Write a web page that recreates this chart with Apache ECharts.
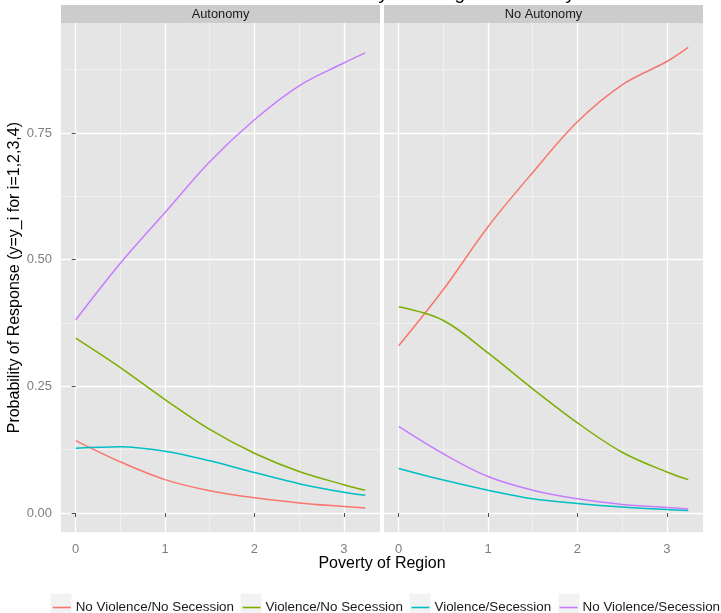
<!DOCTYPE html>
<html>
<head>
<meta charset="utf-8">
<script src="https://cdn.jsdelivr.net/npm/echarts@6/dist/echarts.min.js"></script>
<style>
html,body{margin:0;padding:0;background:#fff;}
#chart{width:721px;height:613px;}
</style>
</head>
<body>
<div id="chart"></div>
<script>
// ---- data ----
const titleText = 'Effects of Autonomy and Regional Poverty';
const panelNames = ['Autonomy', 'No Autonomy'];
const seriesNames = ['No Violence/No Secession', 'Violence/No Secession', 'Violence/Secession', 'No Violence/Secession'];
const seriesColors = ['#F8766D', '#7CAE00', '#00BFC4', '#C77CFF'];
const xValues = [0, 0.5, 1, 1.5, 2, 2.5, 3, 3.24];
const xTicks = [0, 1, 2, 3];
const xMinor = [0.5, 1.5, 2.5];
const yTicks = [0, 0.25, 0.5, 0.75];
const yMinor = [0.125, 0.375, 0.625, 0.875];

// Autonomy panel
const autoNoViolNoSec = [0.143, 0.101, 0.066, 0.044, 0.030, 0.020, 0.013, 0.010];
const autoViolNoSec   = [0.345, 0.287, 0.224, 0.165, 0.118, 0.082, 0.056, 0.045];
const autoViolSec     = [0.128, 0.131, 0.122, 0.103, 0.080, 0.058, 0.041, 0.035];
const autoNoViolSec   = [0.381, 0.493, 0.593, 0.693, 0.776, 0.843, 0.888, 0.908];
// No Autonomy panel
const noAutoNoViolNoSec = [0.330, 0.441, 0.565, 0.672, 0.772, 0.845, 0.891, 0.919];
const noAutoViolNoSec   = [0.407, 0.380, 0.316, 0.245, 0.178, 0.120, 0.081, 0.066];
const noAutoViolSec     = [0.088, 0.065, 0.045, 0.028, 0.019, 0.012, 0.007, 0.005];
const noAutoNoViolSec   = [0.171, 0.117, 0.072, 0.045, 0.028, 0.017, 0.011, 0.008];

const panelData = [
  [autoNoViolNoSec, autoViolNoSec, autoViolSec, autoNoViolSec],
  [noAutoNoViolNoSec, noAutoViolNoSec, noAutoViolSec, noAutoNoViolSec]
];

// ---- layout / style ----
const FONT = 'Liberation Sans, Arial, sans-serif';
const X_MIN = -0.164, X_MAX = 3.405;
const Y_MIN = -0.038, Y_MAX = 0.967;
const grids = [
  {left: 61, width: 319, top: 23, height: 509.3},
  {left: 384, width: 319, top: 23, height: 509.3}
];

const chart = echarts.init(document.getElementById('chart'), null, {renderer: 'canvas'});

const xAxes = [], yAxes = [], series = [];
grids.forEach((g, gi) => {
  // minor axes (drawn first, underneath)
  xAxes.push({
    type: 'value', gridIndex: gi, min: X_MIN, max: X_MAX, position: 'bottom', offset: 0,
    axisLine: {show: false}, axisLabel: {show: false},
    axisTick: {show: false, customValues: xMinor},
    splitLine: {show: true, lineStyle: {color: '#f2f2f2', width: 0.8}}
  });
  yAxes.push({
    type: 'value', gridIndex: gi, min: Y_MIN, max: Y_MAX, position: 'left', offset: 0,
    axisLine: {show: false}, axisLabel: {show: false},
    axisTick: {show: false, customValues: yMinor},
    splitLine: {show: true, lineStyle: {color: '#f2f2f2', width: 0.8}}
  });
});
grids.forEach((g, gi) => {
  xAxes.push({
    type: 'value', gridIndex: gi, min: X_MIN, max: X_MAX, position: 'bottom', offset: 0,
    axisLine: {show: false},
    axisTick: {show: true, length: 4, customValues: xTicks, lineStyle: {color: '#4d4d4d', width: 1}},
    axisLabel: {show: true, customValues: xTicks, margin: 11, color: '#7f7f7f', fontSize: 13, fontFamily: FONT},
    splitLine: {show: true, lineStyle: {color: '#ffffff', width: 1.3}}
  });
  yAxes.push({
    type: 'value', gridIndex: gi, min: Y_MIN, max: Y_MAX, position: 'left', offset: 0,
    name: gi === 0 ? 'Probability of Response (y=y_i for i=1,2,3,4)' : '',
    nameLocation: 'middle', nameGap: 36,
    nameTextStyle: {color: '#000', fontSize: 16, fontFamily: FONT},
    axisLine: {show: false},
    axisTick: {show: gi === 0, length: 4, customValues: yTicks, lineStyle: {color: '#4d4d4d', width: 1}},
    axisLabel: {show: gi === 0, customValues: yTicks, margin: 9, color: '#7f7f7f', fontSize: 13, fontFamily: FONT,
      formatter: v => v.toFixed(2)},
    splitLine: {show: true, lineStyle: {color: '#ffffff', width: 1.3}}
  });
});

panelData.forEach((arrs, gi) => {
  arrs.forEach((vals, si) => {
    series.push({
      name: seriesNames[si],
      type: 'line',
      xAxisIndex: 2 + gi,
      yAxisIndex: 2 + gi,
      data: xValues.map((x, i) => [x, vals[i]]),
      smooth: 0.35,
      showSymbol: false,
      symbol: 'none',
      itemStyle: {color: seriesColors[si]},
      lineStyle: {color: seriesColors[si], width: 1.5},
      z: 5
    });
  });
});

const graphics = [];
// facet strips
grids.forEach((g, gi) => {
  graphics.push({
    type: 'rect', z: 1,
    shape: {x: g.left, y: 5, width: g.width, height: 18},
    style: {fill: '#cccccc'}
  });
  graphics.push({
    type: 'text', z: 2,
    style: {x: g.left + g.width / 2, y: 14, text: panelNames[gi], textAlign: 'center', textVerticalAlign: 'middle',
      fill: '#1a1a1a', fontSize: 12.8, fontFamily: FONT}
  });
});
// x axis title
graphics.push({
  type: 'text', z: 2,
  style: {x: 382, y: 564, text: 'Poverty of Region', textAlign: 'center', textVerticalAlign: 'middle',
    fill: '#000', fontSize: 16, fontFamily: FONT}
});
// legend key backgrounds
[50, 240, 409, 558].forEach(x => {
  graphics.push({
    type: 'rect', z: 1,
    shape: {x: x, y: 593, width: 22, height: 22},
    style: {fill: '#f2f2f2', stroke: '#ffffff', lineWidth: 1}
  });
});

chart.setOption({
  animation: false,
  backgroundColor: '#ffffff',
  title: {
    text: titleText, right: 141, top: -21,
    textStyle: {fontSize: 19, fontWeight: 'normal', color: '#000', fontFamily: FONT}
  },
  grid: grids.map(g => ({left: g.left, width: g.width, top: g.top, height: g.height,
    show: true, backgroundColor: '#e5e5e5', borderWidth: 0})),
  xAxis: xAxes,
  yAxis: yAxes,
  legend: {
    data: seriesNames,
    left: 52.7, top: 601, padding: 0,
    itemWidth: 18, itemHeight: 1.6, itemGap: 8.5,
    icon: 'path://M0,0 H18 V1.6 H0 Z',
    textStyle: {fontSize: 13.4, color: '#1a1a1a', fontFamily: FONT},
    z: 5
  },
  graphic: graphics,
  series: series
});
</script>
</body>
</html>
